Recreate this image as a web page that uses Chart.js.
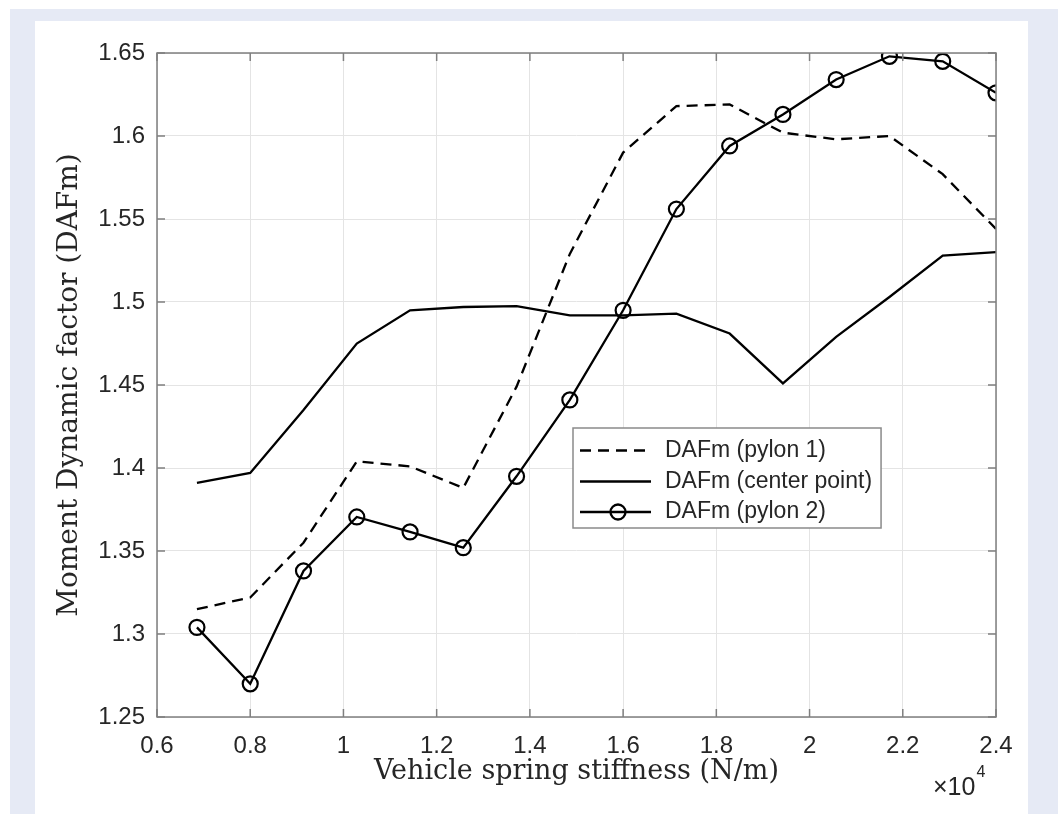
<!DOCTYPE html>
<html>
<head>
<meta charset="utf-8">
<script src="https://cdn.jsdelivr.net/npm/chart.js@4.4.1/dist/chart.umd.min.js"></script>
<style>
  html, body { margin: 0; padding: 0; background: #fff; }
  #frame { position: absolute; left: 10px; top: 9px; width: 1048px; height: 805px; background: #e6eaf5; }
  #panel { position: absolute; left: 35px; top: 21px; width: 993px; height: 793px; background: #fff; }
</style>
</head>
<body>
<div id="frame"></div>
<div id="panel"><canvas id="chart" width="993" height="793"></canvas></div>
<script>
// vehicle spring stiffness (N/m)
const stiffness = [6857, 8000, 9143, 10286, 11429, 12571, 13714, 14857, 16000, 17143, 18286, 19429, 20571, 21714, 22857, 24000];
const dafPylon1 = [1.315, 1.322, 1.355, 1.404, 1.401, 1.388, 1.449, 1.529, 1.590, 1.618, 1.619, 1.602, 1.598, 1.600, 1.577, 1.544];
const dafCenter = [1.391, 1.397, 1.435, 1.475, 1.495, 1.497, 1.4975, 1.492, 1.492, 1.493, 1.481, 1.451, 1.479, 1.503, 1.528, 1.530];
const dafPylon2 = [1.304, 1.270, 1.338, 1.3705, 1.3615, 1.352, 1.395, 1.441, 1.495, 1.556, 1.594, 1.613, 1.634, 1.648, 1.645, 1.626];
const seriesLabels = ["DAFm (pylon 1)", "DAFm (center point)", "DAFm (pylon 2)"];

const toPoints = arr => stiffness.map((x, i) => ({ x: x, y: arr[i] }));

const axisColor = "#7f7f7f";
const textColor = "#262626";
const sansFont = "'Liberation Sans', Arial, sans-serif";
const serifFont = "'DejaVu Serif', serif";

// box, inward ticks, legend and the x10^4 exponent, MATLAB style
const matlabAxes = {
  id: "matlabAxes",
  afterDatasetsDraw(chart) {
    const { ctx, chartArea: a, scales } = chart;
    const xs = scales.x, ys = scales.y;
    ctx.save();

    ctx.strokeStyle = axisColor;
    ctx.lineWidth = 1.5;
    ctx.strokeRect(a.left, a.top, a.right - a.left, a.bottom - a.top);
    const tl = 8;
    ctx.beginPath();
    xs.ticks.forEach(t => {
      const px = xs.getPixelForValue(t.value);
      ctx.moveTo(px, a.bottom); ctx.lineTo(px, a.bottom - tl);
      ctx.moveTo(px, a.top); ctx.lineTo(px, a.top + tl);
    });
    ys.ticks.forEach(t => {
      const py = ys.getPixelForValue(t.value);
      ctx.moveTo(a.left, py); ctx.lineTo(a.left + tl, py);
      ctx.moveTo(a.right, py); ctx.lineTo(a.right - tl, py);
    });
    ctx.stroke();

    // exponent
    ctx.fillStyle = textColor;
    ctx.textBaseline = "middle";
    ctx.textAlign = "left";
    ctx.font = "25px " + sansFont;
    const ex = a.right - 63;
    ctx.fillText("\u00d710", ex, a.bottom + 71);
    const w = ctx.measureText("\u00d710").width;
    ctx.font = "16px " + sansFont;
    ctx.fillText("4", ex + w + 1, a.bottom + 56);

    // legend
    ctx.font = "23px " + sansFont;
    const ds = chart.data.datasets;
    let maxW = 0;
    ds.forEach(d => { maxW = Math.max(maxW, ctx.measureText(d.label).width); });
    const bx = a.left + 416, by = a.top + 375;
    const bw = 92 + maxW + 9, bh = 100;
    ctx.fillStyle = "#fff";
    ctx.fillRect(bx, by, bw, bh);
    ctx.strokeStyle = "#8a8a8a";
    ctx.lineWidth = 1.5;
    ctx.strokeRect(bx, by, bw, bh);
    const rows = [22.5, 53.5, 84];
    ds.forEach((d, i) => {
      const ry = by + rows[i];
      ctx.strokeStyle = d.borderColor;
      ctx.lineWidth = d.borderWidth;
      ctx.setLineDash(d.borderDash || []);
      ctx.beginPath();
      ctx.moveTo(bx + 7, ry); ctx.lineTo(bx + 78, ry);
      ctx.stroke();
      ctx.setLineDash([]);
      if (d.pointRadius > 0) {
        ctx.beginPath();
        ctx.arc(bx + 45, ry, d.pointRadius, 0, Math.PI * 2);
        ctx.stroke();
      }
      ctx.fillStyle = textColor;
      ctx.fillText(d.label, bx + 92, ry);
    });

    ctx.restore();
  }
};

new Chart(document.getElementById("chart"), {
  type: "line",
  data: {
    datasets: [
      {
        label: seriesLabels[0],
        data: toPoints(dafPylon1),
        borderColor: "#000",
        borderWidth: 2.3,
        borderDash: [11, 7],
        pointRadius: 0,
        tension: 0
      },
      {
        label: seriesLabels[1],
        data: toPoints(dafCenter),
        borderColor: "#000",
        borderWidth: 2.3,
        pointRadius: 0,
        tension: 0
      },
      {
        label: seriesLabels[2],
        data: toPoints(dafPylon2),
        borderColor: "#000",
        borderWidth: 2.3,
        pointRadius: 7.5,
        pointBorderWidth: 2.2,
        pointBorderColor: "#000",
        pointBackgroundColor: "rgba(0,0,0,0)",
        tension: 0
      }
    ]
  },
  options: {
    responsive: false,
    animation: false,
    layout: { padding: { top: 32, right: 32, left: 0, bottom: 0 } },
    plugins: {
      legend: { display: false },
      tooltip: { enabled: false }
    },
    scales: {
      x: {
        type: "linear",
        min: 6000,
        max: 24000,
        afterFit: s => { s.height = 97; },
        grid: { color: "#e4e4e4", lineWidth: 1, drawTicks: false },
        border: { display: false },
        ticks: {
          stepSize: 2000,
          autoSkip: false,
          maxRotation: 0,
          padding: 15,
          color: textColor,
          font: { family: sansFont, size: 24 },
          callback: v => String(+(v / 1e4).toFixed(1))
        },
        title: {
          display: true,
          text: "Vehicle spring stiffness (N/m)",
          color: textColor,
          padding: { top: 0, bottom: 26 },
          font: { family: serifFont, size: 27 }
        }
      },
      y: {
        min: 1.25,
        max: 1.65,
        afterFit: s => { s.width = 122; },
        grid: { color: "#e4e4e4", lineWidth: 1, drawTicks: false },
        border: { display: false },
        ticks: {
          stepSize: 0.05,
          padding: 12,
          color: textColor,
          font: { family: sansFont, size: 24 },
          callback: v => String(+v.toFixed(2))
        },
        title: {
          display: true,
          text: "Moment Dynamic factor (DAFm)",
          color: textColor,
          padding: { top: 18, bottom: 0 },
          font: { family: serifFont, size: 28 }
        }
      }
    }
  },
  plugins: [matlabAxes]
});
</script>
</body>
</html>
